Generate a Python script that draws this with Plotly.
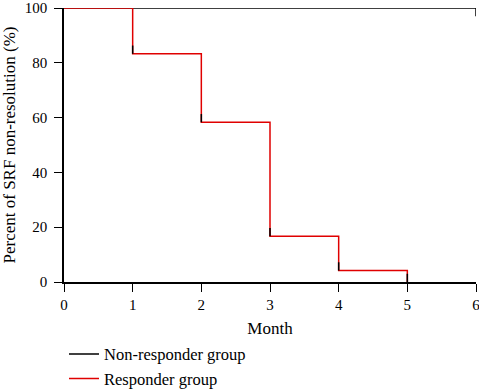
import plotly.graph_objects as go

months_nonresp = [0, 6]
pct_nonresp = [100, 100]

months_resp = [0, 1, 2, 3, 4, 5]
pct_resp = [100, 83.3, 58.3, 16.7, 4.2, 0]

censor_x = [1, 2, 3, 4, 5]
censor_y = [83.3, 58.3, 16.7, 4.2, 0]

x_ticks = [0, 1, 2, 3, 4, 5, 6]
y_ticks = [0, 20, 40, 60, 80, 100]

FONT = "Liberation Serif"

fig = go.Figure()
fig.add_trace(go.Scatter(
    x=months_nonresp, y=pct_nonresp, mode="lines", line_shape="hv",
    line=dict(color="#000000", width=1.5), name="Non-responder group",
    cliponaxis=False))
fig.add_trace(go.Scatter(
    x=months_resp, y=pct_resp, mode="lines", line_shape="hv",
    line=dict(color="#e00000", width=1.5), name="Responder group",
    cliponaxis=False))
# small black censor ticks at the bottom of each drop
cx, cy = [], []
for x, y in zip(censor_x, censor_y):
    cx += [x, x, None]
    cy += [y, y + 3, None]
cx += [6, 6, None]
cy += [100, 97, None]
fig.add_trace(go.Scatter(x=cx, y=cy, mode="lines",
                         line=dict(color="#000000", width=1.5),
                         showlegend=False, cliponaxis=False))

fig.update_layout(
    width=479, height=392,
    margin=dict(l=64, r=3, t=8, b=110, autoexpand=False),
    paper_bgcolor="white", plot_bgcolor="white",
    font=dict(family=FONT, size=14, color="#000000"),
    showlegend=True,
    legend=dict(x=0.0, y=-0.2, xanchor="left", yanchor="top",
                font=dict(family=FONT, size=16.5), tracegroupgap=0,
                itemwidth=30),
)
fig.update_xaxes(range=[0, 6], tickvals=x_ticks, showline=True,
                 linecolor="#000000", linewidth=1.5, ticks="outside",
                 ticklen=8, tickcolor="#000000", showgrid=False,
                 zeroline=False, ticklabeloverflow="allow",
                 tickfont=dict(size=15),
                 title=dict(text="Month", standoff=10))
fig.update_yaxes(range=[0, 100], tickvals=y_ticks, showline=True,
                 linecolor="#000000", linewidth=1.5, ticks="outside",
                 ticklen=8, tickcolor="#000000", showgrid=False,
                 zeroline=False, tickfont=dict(size=15),
                 ticklabelstandoff=4,
                 title=dict(text="Percent of SRF non-resolution (%)", standoff=6))

fig.write_html("out.html")
